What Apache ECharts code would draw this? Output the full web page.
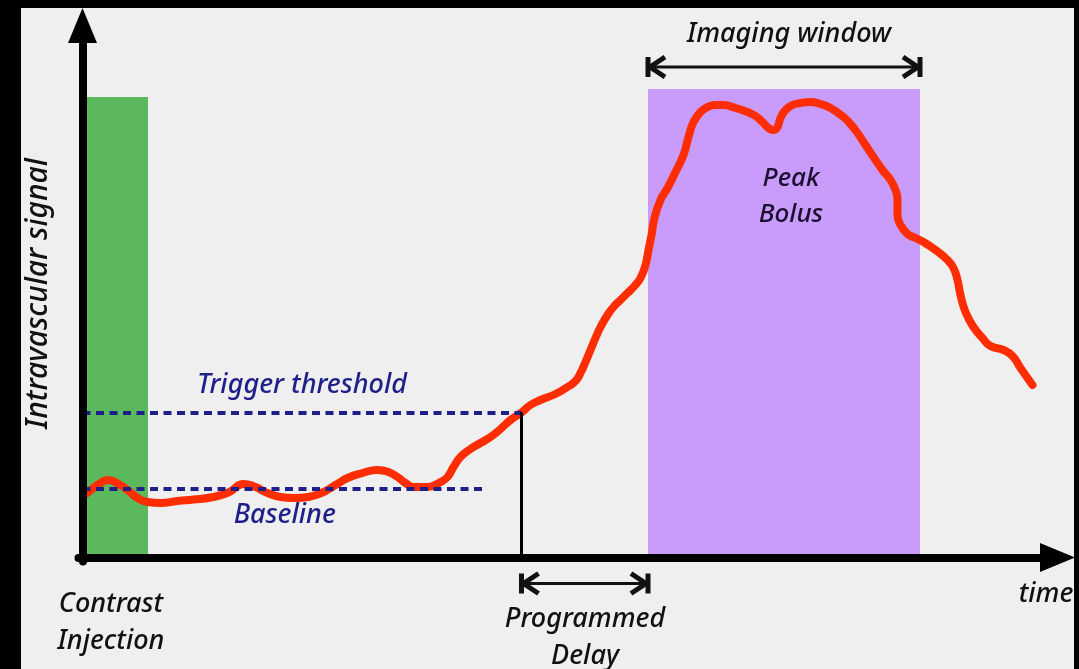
<!DOCTYPE html>
<html>
<head>
<meta charset="utf-8">
<script src="https://cdn.jsdelivr.net/npm/echarts@6/dist/echarts.min.js"></script>
<style>
  html, body { margin: 0; padding: 0; background: #000; }
  #frame { position: relative; width: 1079px; height: 669px; background: #000; overflow: hidden; }
  #paper { position: absolute; left: 21px; top: 8px; right: 5px; bottom: 0; background: #efefef; }
  #chart { position: absolute; left: 0; top: 0; width: 1079px; height: 669px; }
</style>
</head>
<body>
<div id="frame">
  <div id="paper"></div>
  <div id="chart"></div>
</div>
<script>
// Bolus-tracking timing: signal (arbitrary units) against time (arbitrary units)
const timePoints = [
  0.5, 1.5, 2.6, 3.6, 4.5, 5.5, 6.5, 7.8, 9.5, 11.1, 12.8, 14.6, 16.1, 17.3, 18.5, 19.8,
  21.1, 22.6, 24.1, 25.3, 26.5, 28.0, 29.5, 30.6, 31.5, 32.3, 33.1, 34.5, 35.8, 36.5, 37.1,
  37.8, 38.8, 39.8, 40.8, 41.8, 42.8, 43.9, 44.8, 45.8, 47.3, 48.5, 49.3, 49.8, 50.3, 50.8,
  51.3, 51.8, 52.5, 53.1, 53.8, 54.5, 55.2, 55.8, 56.3, 56.6, 56.9, 57.2, 57.8, 58.5, 59.3,
  60.1, 60.6, 61.1, 61.8, 62.5, 63.3, 64.1, 65.3, 66.5, 67.3, 68.0, 68.6, 69.1, 69.5, 69.8,
  70.3, 71.0, 71.8, 72.8, 73.8, 74.8, 76.1, 76.8, 77.5, 78.3, 79.1, 80.0, 80.8, 81.3, 81.5,
  81.5, 81.8, 82.5, 83.3, 84.1, 85.3, 86.5, 87.1, 87.5, 87.8, 88.3, 89.1, 90.0, 90.8, 92.1,
  93.0, 93.8, 95.0
];
const signal = [
  12.9, 14.5, 15.5, 14.7, 13.5, 11.9, 11.1, 10.9, 11.3, 11.6, 12.0, 13.0, 14.7, 14.1, 12.9, 12.1,
  11.9, 12.1, 13.1, 14.5, 15.9, 16.9, 17.5, 17.1, 16.1, 14.9, 14.1, 14.1, 15.1, 16.1, 18.1,
  20.1, 21.7, 22.9, 24.1, 25.7, 27.5, 29.0, 30.5, 31.5, 32.7, 34.1, 35.3, 36.9, 39.1, 41.5,
  43.9, 46.1, 48.5, 50.1, 51.5, 52.9, 54.3, 55.9, 58.5, 61.5, 64.5, 67.9, 71.5, 73.9, 77.1,
  80.5, 84.1, 87.1, 89.1, 90.1, 90.5, 90.5, 89.9, 89.1, 88.3, 87.1, 85.9, 85.5, 86.1, 87.9,
  89.5, 90.5, 90.9, 91.1, 90.7, 89.9, 88.1, 86.7, 84.9, 82.5, 80.1, 77.5, 75.5, 73.5, 71.5,
  68.5, 66.5, 64.7, 63.9, 63.1, 61.5, 59.5, 57.9, 55.5, 52.5, 49.1, 46.1, 43.9, 42.3, 41.5,
  40.3, 37.9, 34.5
];

const baselineLevel = 13.7;
const baselineEnd = 40.45;
const triggerLevel = 29.0;
const triggerTime = 43.9;
const injectionWindow = [0.35, 6.55];
const injectionHeight = 92.1;
const imagingWindow = [56.55, 83.75];
const imagingHeight = 93.7;

const xRange = [-0.4, 97.5];
const yRange = [-0.8, 106.4];

const FONT = '"Noto Sans", "Open Sans", sans-serif';
const INK = '#111111';
const NAVY = '#1f1f8a';
const TEXT_FONT = 'italic 500 27px ' + FONT;

const chart = echarts.init(document.getElementById('chart'), null, { renderer: 'canvas' });

const signalData = timePoints.map((t, i) => [t, signal[i]]);

// Double-headed bracket arrow spanning [x1, x2] of the time axis
function bracketArrow(params, api) {
  const x1 = api.value(0);
  const x2 = api.value(1);
  const a = api.coord([x1, 0]);
  const b = api.coord([x2, 0]);
  let y;
  if (params.dataIndex === 0) {
    y = api.coord([x1, imagingHeight])[1] - 22;
  } else {
    y = a[1] + 26;
  }
  const l = a[0], r = b[0];
  const head = 17, half = 10;
  const thick = { stroke: INK, lineWidth: 5, fill: null, lineJoin: 'miter', lineCap: 'butt' };
  return {
    type: 'group',
    children: [
      { type: 'line', shape: { x1: l, y1: y, x2: r, y2: y }, style: { stroke: INK, lineWidth: 3 } },
      { type: 'line', shape: { x1: l, y1: y - half, x2: l, y2: y + half }, style: thick },
      { type: 'line', shape: { x1: r, y1: y - half, x2: r, y2: y + half }, style: thick },
      { type: 'polyline', shape: { points: [[l + head, y - half], [l + 2, y], [l + head, y + half]] }, style: thick },
      { type: 'polyline', shape: { points: [[r - head, y - half], [r - 2, y], [r - head, y + half]] }, style: thick }
    ]
  };
}

const labelFont = { fontFamily: FONT, fontStyle: 'italic', fontWeight: 500, fontSize: 27 };

const option = {
  backgroundColor: 'transparent',
  animation: false,
  grid: { left: 78.5, right: 21.5, top: 25.5, bottom: 107.5 },
  xAxis: {
    type: 'value', min: xRange[0], max: xRange[1], z: 10,
    axisLine: { show: true, onZero: true, symbol: ['none', 'triangle'], symbolSize: [29, 35],
      lineStyle: { color: '#000', width: 8 } },
    axisTick: { show: false }, axisLabel: { show: false }, splitLine: { show: false }
  },
  yAxis: {
    type: 'value', min: yRange[0], max: yRange[1], z: 10,
    name: 'Intravascular signal', nameLocation: 'middle', nameRotate: 90, nameGap: 25,
    nameTextStyle: { color: INK, fontFamily: FONT, fontStyle: 'italic', fontWeight: 500, fontSize: 30 },
    axisLine: { show: true, onZero: true, symbol: ['none', 'triangle'], symbolSize: [29, 35],
      lineStyle: { color: '#000', width: 8 } },
    axisTick: { show: false }, axisLabel: { show: false }, splitLine: { show: false }
  },
  series: [
    {
      name: 'Contrast injection', type: 'line', data: [], z: 1, silent: true,
      markArea: {
        silent: true,
        itemStyle: { color: '#5cb85c' },
        data: [[{ coord: [injectionWindow[0], 0] }, { coord: [injectionWindow[1], injectionHeight] }]]
      }
    },
    {
      name: 'Imaging window', type: 'line', data: [], z: 1, silent: true,
      markArea: {
        silent: true,
        itemStyle: { color: '#c99bfa' },
        label: {
          show: true, position: 'insideTop', distance: 72, offset: [7, 0],
          formatter: 'Peak\nBolus', color: '#1a1030', lineHeight: 36, align: 'center',
          ...labelFont, fontSize: 26
        },
        data: [[{ coord: [imagingWindow[0], 0] }, { coord: [imagingWindow[1], imagingHeight] }]]
      }
    },
    {
      name: 'Levels', type: 'line', data: [], z: 2, silent: true,
      markLine: {
        silent: true, symbol: ['none', 'none'],
        lineStyle: { color: NAVY, width: 4, type: [8, 5.5] },
        data: [
          [{ coord: [0, triggerLevel],
             label: { show: true, position: 'insideMiddleTop', distance: 14, formatter: 'Trigger threshold', color: NAVY, ...labelFont } },
           { coord: [triggerTime, triggerLevel] }],
          [{ coord: [0, baselineLevel],
             label: { show: true, position: 'insideMiddleBottom', distance: 13, formatter: 'Baseline', color: NAVY, ...labelFont } },
           { coord: [baselineEnd, baselineLevel] }]
        ]
      }
    },
    {
      name: 'Trigger', type: 'line', data: [], z: 2, silent: true,
      markLine: {
        silent: true, symbol: ['none', 'none'], label: { show: false },
        lineStyle: { color: '#000', width: 3, type: 'solid' },
        data: [[{ coord: [triggerTime, 0] }, { coord: [triggerTime, triggerLevel] }]]
      }
    },
    {
      name: 'Signal', type: 'line', data: signalData, z: 3,
      smooth: 0.5, symbol: 'none',
      lineStyle: { color: '#ff2d00', width: 8, cap: 'round', join: 'round' }
    },
    {
      name: 'Spans', type: 'custom', z: 4, silent: true, clip: false,
      encode: { x: [0, 1] },
      data: [[imagingWindow[0], imagingWindow[1]], [triggerTime, imagingWindow[0]]],
      renderItem: bracketArrow
    }
  ],
  graphic: [
    { type: 'text', z: 20, style: { text: 'Imaging window', x: 789, y: 34, align: 'center', verticalAlign: 'middle',
      fill: INK, font: TEXT_FONT } },
    { type: 'text', z: 20, style: { text: 'Contrast\nInjection', x: 111, y: 623, align: 'center', verticalAlign: 'middle',
      fill: INK, font: TEXT_FONT, lineHeight: 37 } },
    { type: 'text', z: 20, style: { text: 'Programmed\nDelay', x: 585, y: 638, align: 'center', verticalAlign: 'middle',
      fill: INK, font: TEXT_FONT, lineHeight: 37 } },
    { type: 'text', z: 20, style: { text: 'time', x: 1046, y: 594, align: 'center', verticalAlign: 'middle',
      fill: INK, font: TEXT_FONT } }
  ]
};

chart.setOption(option);
</script>
</body>
</html>
